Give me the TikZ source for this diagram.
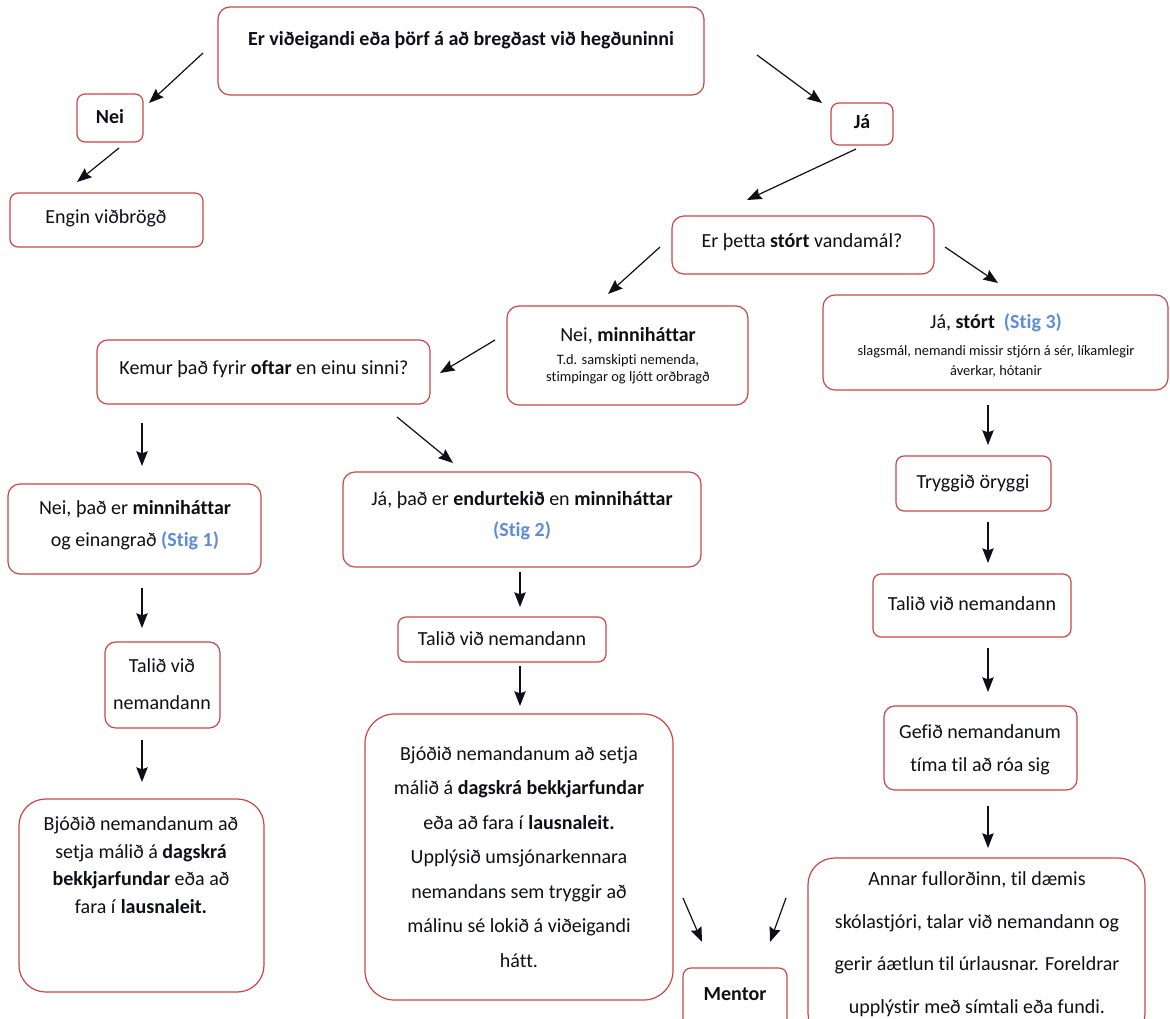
\documentclass[tikz,border=0pt]{standalone}
\usepackage{fontspec}
\setmainfont{Carlito}[Ligatures=NoCommon]
\usetikzlibrary{arrows.meta,fit}
\definecolor{boxred}{RGB}{200,72,72}
\definecolor{stigblue}{RGB}{95,140,215}
\definecolor{ink}{RGB}{15,15,25}
\tikzset{
  box/.style={draw=boxred, line width=0.9pt, inner sep=0pt, rounded corners=#1},
  box/.default=8pt,
  txt/.style={align=center, inner sep=0pt, text=ink},
  big/.style={font=\fontsize{15}{#1}\selectfont},
  big/.default=18,
  small/.style={font=\fontsize{10.8}{#1}\selectfont},
  arr/.style={-{Stealth[length=11pt,width=8.5pt,inset=1.5pt]}, line width=0.9pt, draw=ink}
}
\newcommand{\stig}[1]{\textcolor{stigblue}{\textbf{#1}}}
\begin{document}
\begin{tikzpicture}[x=0.75pt,y=-0.75pt]
\useasboundingbox[fill=white] (0,0) rectangle (1170,1018);
\begin{scope}
\clip (0,0) rectangle (1170,1018);
% boxes
\node[box=9pt, fit={(218,7) (704,95)}] (topbox) {};
\node[box=6pt, fit={(77,94) (143,142)}] (neibox) {};
\node[box=6pt, fit={(10,193) (203,247)}] (enginbox) {};
\node[box=6pt, fit={(831,103) (893,145)}] (jabox) {};
\node[box=9pt, fit={(672,216) (934,274)}] (stortbox) {};
\node[box=9pt, fit={(507,306) (748,405)}] (neiminbox) {};
\node[box=9pt, fit={(823,295) (1168,390)}] (jastortbox) {};
\node[box=8pt, fit={(97,340) (430,404)}] (kemurbox) {};
\node[box=9pt, fit={(8,484) (261,574)}] (stigeinnbox) {};
\node[box=9pt, fit={(343,472) (701,567)}] (stigtveirbox) {};
\node[box=6pt, fit={(398,617) (606,662)}] (talidmidbox) {};
\node[box=8pt, fit={(105,642) (220,728)}] (talidleftbox) {};
\node[box=20pt, fit={(19,799) (264,992)}] (bjodleftbox) {};
\node[box=22pt, fit={(365,714) (673,1000)}] (bjodmidbox) {};
\node[box=6pt, fit={(896,456) (1051,511)}] (tryggidbox) {};
\node[box=6pt, fit={(873,574) (1071,637)}] (talidrightbox) {};
\node[box=8pt, fit={(884,706) (1077,790)}] (gefidbox) {};
\node[box=20pt, fit={(808,858) (1145,1040)}] (annarbox) {};
\node[box=6pt, fit={(683,968) (787,1045)}] (mentorbox) {};
% texts
\node[txt,big] (toptxt) at (461,40) {\textbf{Er viðeigandi eða þörf á að bregðast við hegðuninni}};
\node[txt,big] (neitxt) at (110,117) {\textbf{Nei}};
\node[txt,big] (engintxt) at (106,218) {Engin viðbrögð};
\node[txt,big] (jatxt) at (862,122) {\textbf{Já}};
\node[txt,big] (storttxt) at (802,242) {Er þetta \textbf{stórt} vandamál?};
\node[txt,big] (neiminA) at (628,336) {Nei, \textbf{minniháttar}};
\node[txt,small=12.8] (neiminB) at (628,369) {T.d. samskipti nemenda,\\stimpingar og ljótt orðbragð};
\node[txt,big] (jastortA) at (996,323) {Já, \textbf{stórt}\ \ \stig{(Stig 3)}};
\node[txt,small=15] (jastortB) at (996,361) {slagsmál, nemandi missir stjórn á sér, líkamlegir\\áverkar, hótanir};
\node[txt,big] (kemurtxt) at (264,369) {Kemur það fyrir \textbf{oftar} en einu sinni?};
\node[txt,big=24] (stigeinntxt) at (135,525) {Nei, það er \textbf{minniháttar}\\og einangrað \stig{(Stig 1)}};
\node[txt,big=23] (stigtveirtxt) at (522,516) {Já, það er \textbf{endurtekið} en \textbf{minniháttar}\\\stig{(Stig 2)}};
\node[txt,big] (talidmidtxt) at (502,639) {Talið við nemandann};
\node[txt,big=27.8] (talidlefttxt) at (162,684) {Talið við\\nemandann};
\node[txt,big=20.8] (bjodlefttxt) at (141,865) {Bjóðið nemandanum að\\setja málið á \textbf{dagskrá}\\\textbf{bekkjarfundar} eða að\\fara í \textbf{lausnaleit.}};
\node[txt,big=25.9] (bjodmidtxt) at (519,857) {Bjóðið nemandanum að setja\\málið á \textbf{dagskrá bekkjarfundar}\\eða að fara í \textbf{lausnaleit.}\\Upplýsið umsjónarkennara\\nemandans sem tryggir að\\málinu sé lokið á viðeigandi\\hátt.};
\node[txt,big] (tryggidtxt) at (973,483) {Tryggið öryggi};
\node[txt,big] (talidrighttxt) at (972,604) {Talið við nemandann};
\node[txt,big=24.8] (gefidtxt) at (980,750) {Gefið nemandanum\\tíma til að róa sig};
\node[txt,big=32] (annartxt) at (977,944) {Annar fullorðinn, til dæmis\\skólastjóri, talar við nemandann og\\gerir áætlun til úrlausnar. Foreldrar\\upplýstir með símtali eða fundi.};
\node[txt,big] (mentortxt) at (735,994) {\textbf{Mentor}};
% arrow end points
\coordinate (a1s) at (203,53);  \coordinate (a1e) at (149,103);
\coordinate (a2s) at (757,55);  \coordinate (a2e) at (822,103);
\coordinate (a3s) at (119,148); \coordinate (a3e) at (77,182);
\coordinate (a4s) at (856,149); \coordinate (a4e) at (747,200);
\coordinate (a5s) at (660,247); \coordinate (a5e) at (608,294);
\coordinate (a6s) at (945,247); \coordinate (a6e) at (998,283);
\coordinate (a7s) at (495,340); \coordinate (a7e) at (440,373);
\coordinate (a8s) at (142,423); \coordinate (a8e) at (142,466);
\coordinate (a9s) at (397,417); \coordinate (a9e) at (453,463);
\coordinate (a10s) at (520,572); \coordinate (a10e) at (520,607);
\coordinate (a11s) at (520,666); \coordinate (a11e) at (520,706);
\coordinate (a12s) at (142,588); \coordinate (a12e) at (142,628);
\coordinate (a13s) at (142,740); \coordinate (a13e) at (142,782);
\coordinate (a14s) at (988,405); \coordinate (a14e) at (988,445);
\coordinate (a15s) at (988,522); \coordinate (a15e) at (988,563);
\coordinate (a16s) at (988,648); \coordinate (a16e) at (988,692);
\coordinate (a17s) at (988,806); \coordinate (a17e) at (988,848);
\coordinate (a18s) at (683,898); \coordinate (a18e) at (702,942);
\coordinate (a19s) at (786,898); \coordinate (a19e) at (770,942);
\foreach \i in {1,...,19} { \draw[arr] (a\i s) -- (a\i e); }
\end{scope}
\end{tikzpicture}
\end{document}
